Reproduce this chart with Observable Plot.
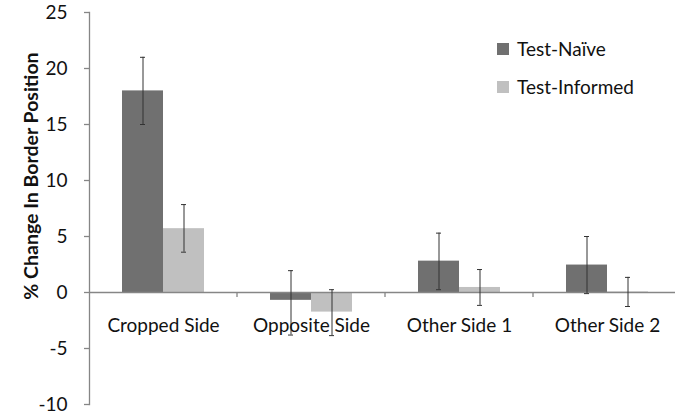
<!DOCTYPE html>
<html>
<head>
<meta charset="utf-8">
<script src="https://cdn.jsdelivr.net/npm/d3@7"></script>
<script src="https://cdn.jsdelivr.net/npm/@observablehq/plot@0.6"></script>
<style>
  html, body { margin: 0; padding: 0; background: #fff; }
  #wrap { position: relative; width: 675px; height: 416px; overflow: hidden; font-family: Lato, "Open Sans", sans-serif; }
  .leg { position: absolute; left: 497px; display: flex; align-items: center; font-size: 19px; color: #111; }
  .leg span.sw { display: inline-block; width: 12px; height: 12px; margin-right: 8px; }
  #ytitle { position: absolute; left: 30px; top: 176px; transform: translate(-50%, -50%) rotate(-90deg); white-space: nowrap; font-weight: bold; font-size: 19.5px; color: #111; }
</style>
</head>
<body>
<div id="wrap"></div>
<script>
const categories = ["Cropped Side", "Opposite Side", "Other Side 1", "Other Side 2"];
const series = ["Test-Naïve", "Test-Informed"];
const colors = ["#707070", "#c0c0c0"];
const naive = [18.0, -0.7, 2.8, 2.45];
const naiveHi = [21.0, 1.95, 5.3, 5.0];
const naiveLo = [15.0, -3.8, 0.25, -0.1];
const informed = [5.7, -1.75, 0.45, 0.05];
const informedHi = [7.85, 0.25, 2.05, 1.35];
const informedLo = [3.6, -3.85, -1.15, -1.25];
const yTicks = [-10, -5, 0, 5, 10, 15, 20, 25];
const yTitle = "% Change In Border Position";

const rows = [];
categories.forEach((c, i) => {
  rows.push({category: c, series: series[0], value: naive[i], lo: naiveLo[i], hi: naiveHi[i]});
  rows.push({category: c, series: series[1], value: informed[i], lo: informedLo[i], hi: informedHi[i]});
});

const axisColor = "#868686";
const errColor = "#333";

const plot = Plot.plot({
  width: 675,
  height: 416,
  marginLeft: 89,
  marginRight: 0,
  marginTop: 12,
  marginBottom: 12,
  style: {fontFamily: "Lato, 'Open Sans', sans-serif", fontSize: "19px", color: "#111", background: "white", overflow: "hidden"},
  fx: {domain: categories, range: [89, 681], padding: 0, axis: null, label: null},
  x: {domain: series, paddingInner: 0, paddingOuter: 0.762, axis: null},
  y: {domain: [-10, 25], axis: null},
  color: {domain: series, range: colors},
  marks: [
    Plot.frame({anchor: "left", facetAnchor: "left", stroke: axisColor, strokeWidth: 1.3}),
    Plot.axisY({ticks: yTicks, tickFormat: d => String(d), tickSize: 5, tickPadding: 17, stroke: axisColor, strokeWidth: 1.3, label: null, fontSize: 19}),
    Plot.barY(rows, {fx: "category", x: "series", y: "value", fill: "series"}),
    Plot.ruleY([0], {stroke: axisColor, strokeWidth: 1.3}),
    Plot.ruleX(rows, {fx: "category", x: "series", y1: "lo", y2: "hi", stroke: errColor, strokeWidth: 1}),
    Plot.tickY(rows, {fx: "category", x: "series", y: "hi", stroke: errColor, strokeWidth: 1, insetLeft: 18, insetRight: 18}),
    Plot.tickY(rows, {fx: "category", x: "series", y: "lo", stroke: errColor, strokeWidth: 1, insetLeft: 18, insetRight: 18}),
    Plot.text(categories, {fx: d => d, text: d => d, y: 0, frameAnchor: "middle", dy: 33, lineAnchor: "middle", fontSize: 19, fill: "#111"})
  ]
});

const wrap = document.getElementById("wrap");
wrap.appendChild(plot);

// boundary tick marks between categories, positioned via Plot's fx and y scales
const fx = plot.scale("fx");
const ys = plot.scale("y");
const y0 = ys.apply(0);
d3.select(plot).append("g")
  .selectAll("line")
  .data(categories.slice(1))
  .join("line")
  .attr("x1", d => fx.apply(d)).attr("x2", d => fx.apply(d))
  .attr("y1", y0).attr("y2", y0 + 5)
  .attr("stroke", axisColor).attr("stroke-width", 1.3);

// y-axis title
const t = document.createElement("div");
t.id = "ytitle";
t.textContent = yTitle;
wrap.appendChild(t);

// legend inside the plot area
const legendTops = [37, 75];
series.forEach((s, i) => {
  const div = document.createElement("div");
  div.className = "leg";
  div.style.top = legendTops[i] + "px";
  div.innerHTML = `<span class="sw" style="background:${colors[i]}"></span><span>${s}</span>`;
  wrap.appendChild(div);
});
</script>
</body>
</html>
